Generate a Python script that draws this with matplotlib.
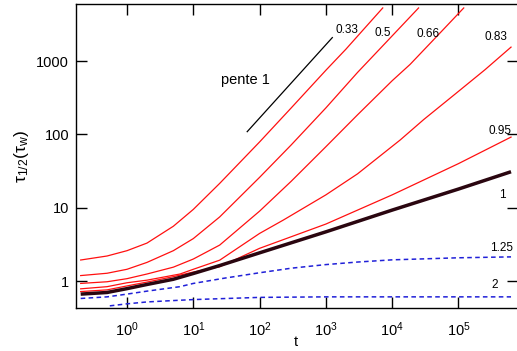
import matplotlib
matplotlib.use("Agg")
import matplotlib.pyplot as plt
from matplotlib.ticker import NullLocator, FixedLocator, FixedFormatter

plt.rcParams['font.family'] = ['Liberation Sans', 'DejaVu Sans']
plt.rcParams['mathtext.fontset'] = 'custom'
plt.rcParams['mathtext.rm'] = 'Liberation Sans'
plt.rcParams['mathtext.it'] = 'Liberation Sans:italic'
plt.rcParams['mathtext.sf'] = 'Liberation Sans'

# ---- data ----
t_033 = [0.2, 0.5, 1, 2, 5, 10, 25, 100, 300, 1000, 2000, 7200]
y_033 = [1.94, 2.2, 2.6, 3.3, 5.6, 9.5, 21.5, 79, 230, 750, 1450, 5300]

t_05 = [0.2, 0.5, 1, 2, 5, 10, 25, 100, 300, 1000, 3000, 6300, 25000]
y_05 = [1.19, 1.28, 1.45, 1.8, 2.6, 3.8, 7.5, 26, 72, 230, 700, 1420, 5300]

t_066 = [0.2, 0.5, 1, 2, 5, 10, 25, 100, 300, 1000, 3000, 10000, 18600, 50000, 120000]
y_066 = [0.93, 0.98, 1.08, 1.25, 1.55, 2.0, 3.1, 9.0, 23, 68, 185, 540, 900, 2300, 5300]

t_083 = [0.2, 0.5, 1, 2, 6.3, 10, 25, 100, 228, 1000, 3000, 13200, 30000, 89000, 250000, 620000]
y_083 = [0.785, 0.84, 0.95, 1.03, 1.25, 1.45, 1.93, 4.47, 6.8, 15, 29, 84, 160, 355, 760, 1550]

t_095 = [0.2, 0.5, 1, 2, 5, 10, 25, 100, 1000, 10000, 100000, 620000]
y_095 = [0.72, 0.76, 0.86, 0.97, 1.15, 1.33, 1.57, 2.8, 6.0, 15, 40, 92]

t_1 = [0.2, 0.5, 1, 2, 5, 10, 25, 100, 1000, 10000, 100000, 620000]
y_1 = [0.665, 0.7, 0.79, 0.9, 1.06, 1.27, 1.63, 2.43, 4.7, 9.3, 18, 31]

t_125 = [0.2, 0.5, 1, 2, 6.3, 10, 30, 100, 300, 1000, 3000, 10000, 100000, 620000]
y_125 = [0.58, 0.61, 0.665, 0.73, 0.84, 0.93, 1.1, 1.3, 1.5, 1.68, 1.82, 1.95, 2.08, 2.14]

t_2 = [0.55, 1, 2, 4.4, 10, 100, 1000, 10000, 620000]
y_2 = [0.46, 0.49, 0.52, 0.54, 0.56, 0.6, 0.61, 0.61, 0.61]

slope_t = [65, 1250]
slope_y = [109, 2090]

curve_labels = ["0.33", "0.5", "0.66", "0.83", "0.95", "1", "1.25", "2"]
label_t = [2.1e3, 7.1e3, 3.5e4, 3.7e5, 4.3e5, 4.6e5, 4.4e5, 3.5e5]
label_y = [2660, 2420, 2340, 2140, 111, 14.8, 2.85, 0.88]

xtick_vals = [1, 10, 100, 1000, 10000, 100000]
xtick_labels = [r'$10^{0}$', r'$10^{1}$', r'$10^{2}$', r'$10^{3}$', r'$10^{4}$', r'$10^{5}$']
ytick_vals = [1, 10, 100, 1000]
ytick_labels = ['1', '10', '100', '1000']

# ---- figure ----
fig = plt.figure(figsize=(5.17, 3.51), dpi=100)
ax = fig.add_axes([76/517, 1 - 308/351, 442/517, 304/351])
ax.set_xscale('log')
ax.set_yscale('log')

red = '#ff1010'
for tt, yy in [(t_033, y_033), (t_05, y_05), (t_066, y_066), (t_083, y_083), (t_095, y_095)]:
    ax.plot(tt, yy, color=red, lw=0.9)
ax.plot(t_1, y_1, color='#2a0610', lw=2.5, solid_capstyle='butt')
blue = '#2020d8'
ax.plot(t_125, y_125, color=blue, lw=1.1, linestyle=(0, (3, 2.2)))
ax.plot(t_2, y_2, color=blue, lw=1.1, linestyle=(0, (3, 2.2)))
ax.plot(slope_t, slope_y, color='black', lw=0.9)
ax.text(26, 552, 'pente 1', fontsize=10.5, ha='left', va='center')

for s, xx, yy in zip(curve_labels, label_t, label_y):
    ax.text(xx, yy, s, fontsize=8.5, ha='center', va='center')

ax.set_xlim(0.17, 7.9e5)
ax.set_ylim(0.43, 6000)

ax.xaxis.set_major_locator(FixedLocator(xtick_vals))
ax.xaxis.set_major_formatter(FixedFormatter(xtick_labels))
ax.yaxis.set_major_locator(FixedLocator(ytick_vals))
ax.yaxis.set_major_formatter(FixedFormatter(ytick_labels))
ax.xaxis.set_minor_locator(NullLocator())
ax.yaxis.set_minor_locator(NullLocator())
ax.tick_params(which='major', direction='in', length=8, width=1.0,
               top=True, right=True, labelsize=10.5)
ax.tick_params(axis='x', pad=9)
ax.tick_params(axis='y', pad=5)
for sp in ax.spines.values():
    sp.set_linewidth(1.0)

ax.set_xlabel('t', fontsize=10.5, va='center')
ax.xaxis.set_label_coords(0.498, -0.112)
ax.set_ylabel(r'$\mathrm{\tau_{1/2}(\tau_w)}$', fontsize=12.5, labelpad=4)

fig.savefig('out.png', dpi=100)
